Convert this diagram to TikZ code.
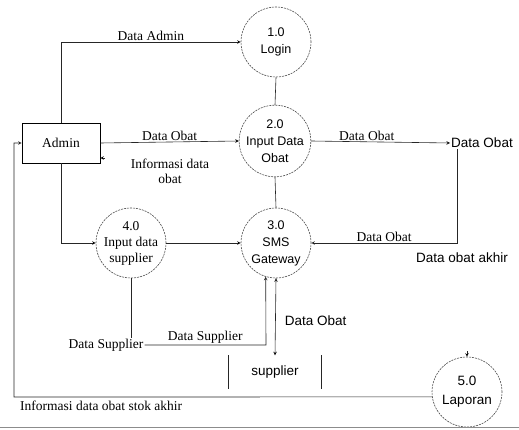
\documentclass[tikz,border=0pt]{standalone}
\usepackage{fontspec}
\setmainfont{Liberation Serif}
\setsansfont{Liberation Sans}
\usepackage{tikz}
\usetikzlibrary{arrows}
\newcommand{\hurufser}{\fontsize{13.5}{15}\selectfont}
\newcommand{\hurufserb}{\fontsize{13.5}{16}\selectfont}
\newcommand{\hurufsans}{\sffamily\fontsize{12.5}{17}\selectfont}
\newcommand{\hurufsansb}{\sffamily\fontsize{13.5}{15}\selectfont}

\begin{document}
\begin{tikzpicture}[x=1pt,y=-1pt,
  proses/.style={circle,draw=black!70,dash pattern=on 2pt off 1pt,line width=0.6pt,minimum size=70pt,inner sep=0pt,align=center,font=\hurufsans},
  entitas/.style={draw,line width=0.6pt,minimum width=78pt,minimum height=40pt,inner sep=0pt,font=\hurufser},
  alir/.style={line width=0.6pt,draw=black!85},
  ket/.style={font=\hurufser,inner sep=1pt},
  ketsans/.style={font=\hurufsansb,inner sep=1pt}]
  \useasboundingbox (0,0) rectangle (519,430);
  % proses
  \node[proses] (login) at (276,42) {1.0\\Login};
  \node[proses] (inputobat) at (275,141) {2.0\\Input Data\\Obat};
  \node[proses] (sms) at (276,243) {3.0\\SMS\\Gateway};
  \node[proses,font=\hurufserb] (inputsupplier) at (131,243) {4.0\\Input data\\supplier};
  \node[proses,font=\sffamily\fontsize{13.5}{19}\selectfont] (laporan) at (467,392) {5.0\\Laporan};
  % entitas dan tujuan
  \node[entitas] (admin) at (61,143) {Admin};
  \node[ketsans] (dataobat) at (482,143) {Data Obat};
  \node[ket] (datasupplier) at (106,345) {Data Supplier};
  \node[ketsans,minimum width=93pt,minimum height=33pt] (supplier) at (275,372) {supplier};
  \draw[alir] (supplier.north west) -- (supplier.south west);
  \draw[alir] (supplier.north east) -- (supplier.south east);
  % titik bantu
  \coordinate (belok) at (457,243);
  \coordinate (sup) at (266,345);
  \coordinate (kiri) at (14,397);
  \coordinate (infoawal) at (105,158);
  \coordinate (lapawal) at (467,351);
  % alur data
  \path[alir,-stealth]
    (admin.north) edge[to path={|- (\tikztotarget) \tikztonodes}] node[ket,above,pos=0.75] {Data Admin} (login.west)
    (admin.east) edge node[ket,above] {Data Obat} (inputobat.west)
    (infoawal) edge (admin.east |- infoawal)
    (admin.south) edge[to path={|- (\tikztotarget)}] (inputsupplier.west)
    (inputsupplier.east) edge (sms.west)
    (inputobat.east) edge node[ket,above,pos=0.4] {Data Obat} (dataobat.west)
    (lapawal) edge (laporan.north)
    (sms.south) edge node[ketsans,right=8pt,pos=0.55] {Data Obat} (supplier.north);
  \draw[alir] (login.south) -- (inputobat.north);
  \draw[alir] (inputobat.south) -- (sms.north);
  \draw[alir] (inputsupplier.south) -- (inputsupplier.south |- datasupplier.north);
  \draw[alir,-stealth] (belok |- dataobat.south) -- (belok) -- node[ket,above] {Data Obat} (sms.east);
  \draw[alir,-stealth] (datasupplier.east) -- node[ket,above] {Data Supplier} (sup) -- (sms.253);
  \draw[alir,-stealth] (laporan.188) -- (kiri) |- (admin.west);
  % keterangan
  \node[ket,align=center] (info) at (170,171) {Informasi data\\obat};
  \node[ketsans] (akhir) at (462,258) {Data obat akhir};
  \node[ket,anchor=north west] (infoakhir) at (19,400) {Informasi data obat stok akhir};
  \draw[black!45,line width=0.8pt] (0,427) -- (519,427);
\end{tikzpicture}
\end{document}
